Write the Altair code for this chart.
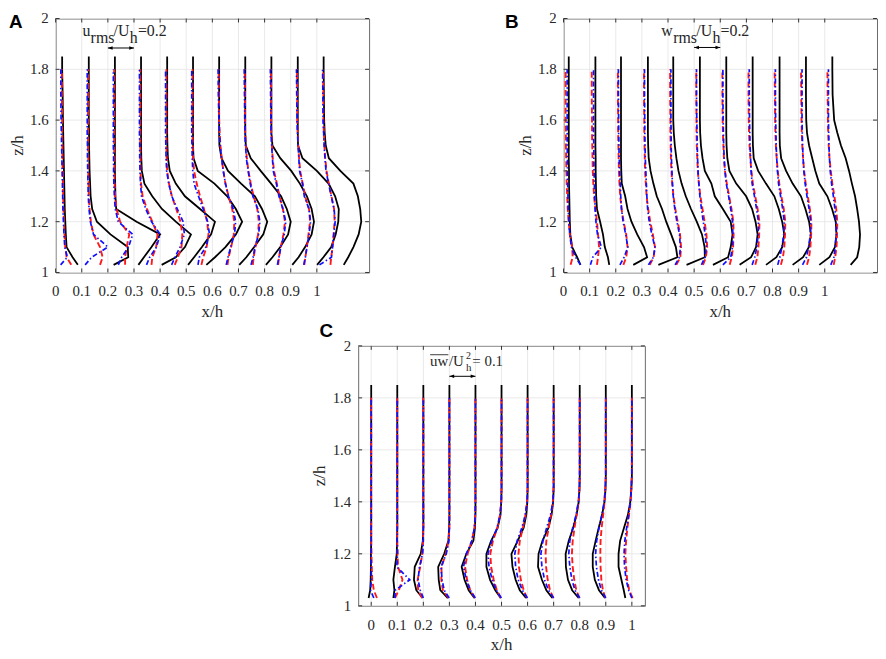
import altair as alt
import pandas as pd

# ---------------- data (offsets of each profile from its station, in x/h units) -------------
Z_LEVELS = [1.03, 1.06, 1.1, 1.15, 1.2, 1.25, 1.3, 1.35, 1.4, 1.45, 1.5, 1.55, 1.6, 1.7, 1.8]
Z_TOP_SOLID = 1.85
STATIONS = [0.0, 0.1, 0.2, 0.3, 0.4, 0.5, 0.6, 0.7, 0.8, 0.9, 1.0]
X_TICKS = [0, 0.1, 0.2, 0.3, 0.4, 0.5, 0.6, 0.7, 0.8, 0.9, 1]
X_TICK_LABELS = ["0", "0.1", "0.2", "0.3", "0.4", "0.5", "0.6", "0.7", "0.8", "0.9", "1"]
Y_TICKS = [1, 1.2, 1.4, 1.6, 1.8, 2]
Y_TICK_LABELS = ["1", "1.2", "1.4", "1.6", "1.8", "2"]

# Panel A : u_rms profiles
A_BLACK = [
    [0.085, 0.065, 0.042, 0.039, 0.037, 0.035, 0.034, 0.033, 0.032, 0.031, 0.030, 0.029, 0.028, 0.027, 0.025],
    [0.122, 0.178, 0.176, 0.110, 0.058, 0.040, 0.034, 0.032, 0.030, 0.029, 0.028, 0.028, 0.027, 0.027, 0.027],
    [0.117, 0.138, 0.167, 0.200, 0.110, 0.032, 0.029, 0.028, 0.027, 0.027, 0.027, 0.027, 0.027, 0.027, 0.027],
    [0.106, 0.160, 0.195, 0.218, 0.160, 0.107, 0.070, 0.040, 0.030, 0.028, 0.027, 0.027, 0.027, 0.027, 0.027],
    [0.107, 0.130, 0.160, 0.195, 0.210, 0.153, 0.095, 0.060, 0.037, 0.030, 0.028, 0.027, 0.027, 0.027, 0.027],
    [0.077, 0.110, 0.150, 0.190, 0.214, 0.190, 0.157, 0.108, 0.044, 0.028, 0.026, 0.026, 0.026, 0.026, 0.026],
    [0.103, 0.130, 0.160, 0.195, 0.210, 0.190, 0.163, 0.110, 0.060, 0.035, 0.027, 0.026, 0.026, 0.026, 0.026],
    [0.105, 0.130, 0.160, 0.190, 0.200, 0.185, 0.163, 0.125, 0.085, 0.047, 0.028, 0.026, 0.026, 0.026, 0.026],
    [0.106, 0.130, 0.155, 0.180, 0.189, 0.180, 0.162, 0.135, 0.102, 0.060, 0.030, 0.026, 0.026, 0.026, 0.026],
    [0.101, 0.125, 0.155, 0.172, 0.182, 0.184, 0.170, 0.145, 0.100, 0.045, 0.028, 0.027, 0.027, 0.027, 0.027],
    [0.103, 0.120, 0.140, 0.160, 0.170, 0.166, 0.157, 0.140, 0.090, 0.046, 0.034, 0.030, 0.028, 0.027, 0.026],
]
A_RED = [
    [0.060, 0.042, 0.037, 0.034, 0.032, 0.030, 0.029, 0.028, 0.027, 0.026, 0.026, 0.025, 0.025, 0.024, 0.024],
    [0.070, 0.080, 0.070, 0.045, 0.035, 0.030, 0.027, 0.026, 0.025, 0.025, 0.024, 0.024, 0.024, 0.024, 0.024],
    [0.066, 0.066, 0.072, 0.082, 0.047, 0.033, 0.028, 0.026, 0.025, 0.025, 0.024, 0.024, 0.024, 0.024, 0.024],
    [0.067, 0.070, 0.085, 0.090, 0.070, 0.050, 0.033, 0.027, 0.025, 0.025, 0.024, 0.024, 0.024, 0.024, 0.024],
    [0.056, 0.068, 0.082, 0.085, 0.078, 0.062, 0.045, 0.034, 0.027, 0.025, 0.024, 0.024, 0.024, 0.024, 0.024],
    [0.058, 0.065, 0.078, 0.085, 0.080, 0.068, 0.053, 0.040, 0.030, 0.026, 0.025, 0.024, 0.024, 0.024, 0.024],
    [0.058, 0.062, 0.072, 0.082, 0.084, 0.076, 0.062, 0.050, 0.042, 0.036, 0.031, 0.028, 0.026, 0.025, 0.024],
    [0.055, 0.058, 0.065, 0.075, 0.078, 0.072, 0.058, 0.047, 0.038, 0.032, 0.028, 0.026, 0.025, 0.025, 0.024],
    [0.052, 0.055, 0.062, 0.072, 0.078, 0.070, 0.057, 0.047, 0.036, 0.031, 0.028, 0.026, 0.025, 0.025, 0.024],
    [0.052, 0.056, 0.062, 0.068, 0.074, 0.070, 0.055, 0.046, 0.036, 0.032, 0.029, 0.027, 0.025, 0.025, 0.024],
    [0.052, 0.055, 0.060, 0.064, 0.068, 0.066, 0.056, 0.046, 0.037, 0.032, 0.029, 0.027, 0.025, 0.025, 0.024],
]
A_BLUE = [
    [0.019, 0.045, 0.035, 0.032, 0.030, 0.028, 0.027, 0.026, 0.025, 0.024, 0.023, 0.022, 0.021, 0.020, 0.020],
    [0.013, 0.038, 0.100, 0.045, 0.033, 0.028, 0.025, 0.024, 0.023, 0.022, 0.022, 0.021, 0.021, 0.021, 0.021],
    [0.040, 0.053, 0.079, 0.095, 0.040, 0.028, 0.025, 0.023, 0.022, 0.022, 0.021, 0.021, 0.021, 0.021, 0.021],
    [0.048, 0.060, 0.086, 0.100, 0.067, 0.045, 0.029, 0.025, 0.023, 0.022, 0.022, 0.021, 0.021, 0.021, 0.021],
    [0.044, 0.057, 0.076, 0.093, 0.088, 0.066, 0.045, 0.033, 0.025, 0.023, 0.022, 0.021, 0.021, 0.021, 0.021],
    [0.045, 0.050, 0.075, 0.089, 0.082, 0.065, 0.047, 0.030, 0.025, 0.023, 0.022, 0.021, 0.021, 0.021, 0.021],
    [0.053, 0.060, 0.070, 0.085, 0.089, 0.080, 0.062, 0.050, 0.042, 0.035, 0.030, 0.027, 0.025, 0.023, 0.022],
    [0.048, 0.056, 0.063, 0.077, 0.082, 0.074, 0.055, 0.045, 0.037, 0.030, 0.027, 0.025, 0.024, 0.023, 0.022],
    [0.049, 0.055, 0.062, 0.075, 0.081, 0.070, 0.055, 0.045, 0.033, 0.030, 0.027, 0.025, 0.024, 0.023, 0.022],
    [0.050, 0.056, 0.062, 0.070, 0.076, 0.070, 0.052, 0.045, 0.034, 0.031, 0.028, 0.026, 0.024, 0.023, 0.022],
    [0.010, 0.056, 0.060, 0.065, 0.070, 0.066, 0.055, 0.045, 0.035, 0.031, 0.028, 0.026, 0.024, 0.023, 0.022],
]

# Panel B : w_rms profiles
B_BLACK = [
    [0.065, 0.052, 0.033, 0.026, 0.024, 0.023, 0.022, 0.021, 0.021, 0.020, 0.020, 0.020, 0.020, 0.020, 0.020],
    [0.075, 0.070, 0.058, 0.051, 0.040, 0.028, 0.025, 0.024, 0.023, 0.023, 0.022, 0.022, 0.022, 0.022, 0.022],
    [0.067, 0.120, 0.108, 0.082, 0.060, 0.045, 0.036, 0.023, 0.021, 0.020, 0.020, 0.020, 0.020, 0.020, 0.020],
    [0.063, 0.136, 0.130, 0.112, 0.093, 0.077, 0.057, 0.044, 0.033, 0.026, 0.024, 0.023, 0.023, 0.023, 0.023],
    [0.071, 0.141, 0.140, 0.130, 0.110, 0.088, 0.068, 0.052, 0.040, 0.032, 0.026, 0.022, 0.020, 0.020, 0.020],
    [0.072, 0.130, 0.140, 0.147, 0.140, 0.110, 0.079, 0.066, 0.041, 0.032, 0.026, 0.023, 0.022, 0.022, 0.022],
    [0.074, 0.118, 0.137, 0.143, 0.135, 0.122, 0.099, 0.061, 0.035, 0.027, 0.024, 0.023, 0.023, 0.023, 0.023],
    [0.075, 0.115, 0.137, 0.145, 0.137, 0.124, 0.107, 0.075, 0.045, 0.028, 0.025, 0.024, 0.024, 0.024, 0.024],
    [0.077, 0.117, 0.139, 0.147, 0.140, 0.126, 0.109, 0.077, 0.052, 0.033, 0.028, 0.027, 0.027, 0.027, 0.027],
    [0.079, 0.118, 0.139, 0.145, 0.142, 0.128, 0.110, 0.079, 0.064, 0.052, 0.040, 0.032, 0.029, 0.028, 0.028],
    [0.099, 0.124, 0.132, 0.135, 0.131, 0.124, 0.116, 0.104, 0.093, 0.080, 0.062, 0.048, 0.036, 0.030, 0.029],
]
B_RED = [
    [0.027, 0.035, 0.033, 0.024, 0.020, 0.016, 0.014, 0.012, 0.011, 0.010, 0.009, 0.009, 0.008, 0.008, 0.008],
    [0.028, 0.032, 0.036, 0.032, 0.028, 0.022, 0.017, 0.014, 0.012, 0.011, 0.010, 0.009, 0.009, 0.008, 0.008],
    [0.029, 0.040, 0.045, 0.040, 0.030, 0.022, 0.017, 0.014, 0.012, 0.011, 0.010, 0.009, 0.009, 0.008, 0.008],
    [0.030, 0.045, 0.050, 0.042, 0.032, 0.024, 0.018, 0.015, 0.012, 0.011, 0.010, 0.009, 0.009, 0.008, 0.008],
    [0.032, 0.047, 0.050, 0.046, 0.037, 0.028, 0.021, 0.016, 0.013, 0.011, 0.010, 0.009, 0.009, 0.008, 0.008],
    [0.034, 0.045, 0.050, 0.047, 0.040, 0.032, 0.024, 0.018, 0.014, 0.012, 0.010, 0.009, 0.009, 0.008, 0.008],
    [0.036, 0.044, 0.049, 0.051, 0.050, 0.043, 0.034, 0.025, 0.018, 0.014, 0.012, 0.010, 0.009, 0.008, 0.008],
    [0.034, 0.042, 0.046, 0.049, 0.050, 0.043, 0.034, 0.025, 0.019, 0.015, 0.012, 0.010, 0.009, 0.008, 0.008],
    [0.032, 0.040, 0.045, 0.048, 0.049, 0.043, 0.034, 0.026, 0.020, 0.016, 0.013, 0.011, 0.010, 0.009, 0.008],
    [0.032, 0.040, 0.045, 0.048, 0.049, 0.043, 0.035, 0.027, 0.021, 0.017, 0.014, 0.012, 0.011, 0.010, 0.009],
    [0.034, 0.040, 0.045, 0.047, 0.048, 0.044, 0.037, 0.029, 0.023, 0.018, 0.015, 0.013, 0.012, 0.011, 0.010],
]
B_BLUE = [
    [0.065, 0.046, 0.030, 0.024, 0.020, 0.018, 0.017, 0.016, 0.015, 0.015, 0.014, 0.014, 0.014, 0.014, 0.014],
    [0.003, 0.012, 0.045, 0.030, 0.024, 0.021, 0.019, 0.018, 0.017, 0.016, 0.016, 0.015, 0.015, 0.015, 0.015],
    [0.016, 0.032, 0.046, 0.038, 0.028, 0.022, 0.019, 0.017, 0.015, 0.013, 0.012, 0.011, 0.011, 0.010, 0.010],
    [0.025, 0.044, 0.050, 0.038, 0.028, 0.022, 0.019, 0.017, 0.015, 0.013, 0.012, 0.011, 0.011, 0.010, 0.010],
    [0.027, 0.044, 0.047, 0.044, 0.034, 0.026, 0.020, 0.017, 0.015, 0.013, 0.012, 0.012, 0.011, 0.011, 0.011],
    [0.028, 0.041, 0.047, 0.042, 0.035, 0.028, 0.022, 0.018, 0.015, 0.013, 0.012, 0.011, 0.010, 0.009, 0.009],
    [0.010, 0.040, 0.047, 0.048, 0.047, 0.040, 0.032, 0.023, 0.018, 0.015, 0.013, 0.012, 0.011, 0.010, 0.010],
    [0.022, 0.032, 0.040, 0.045, 0.046, 0.039, 0.031, 0.022, 0.018, 0.016, 0.014, 0.013, 0.012, 0.011, 0.011],
    [0.020, 0.028, 0.036, 0.043, 0.045, 0.039, 0.031, 0.023, 0.019, 0.016, 0.014, 0.013, 0.012, 0.011, 0.011],
    [0.015, 0.030, 0.038, 0.045, 0.046, 0.040, 0.032, 0.025, 0.020, 0.017, 0.015, 0.014, 0.013, 0.013, 0.013],
    [0.023, 0.035, 0.040, 0.044, 0.043, 0.039, 0.033, 0.026, 0.021, 0.018, 0.016, 0.015, 0.014, 0.014, 0.014],
]

# Panel C : uw profiles
C_BLACK = [
    [-0.010, -0.004, -0.002, -0.001, -0.001, 0.000, 0.000, 0.000, 0.000, 0.000, 0.000, 0.000, 0.000, 0.000, 0.000],
    [-0.015, -0.011, -0.015, -0.009, -0.002, -0.001, 0.000, 0.000, 0.000, 0.000, 0.000, 0.000, 0.000, 0.000, 0.000],
    [-0.003, -0.027, -0.036, -0.033, -0.010, -0.002, 0.000, 0.000, 0.000, 0.000, 0.000, 0.000, 0.000, 0.000, 0.000],
    [-0.006, -0.035, -0.041, -0.043, -0.020, -0.004, -0.001, 0.000, 0.000, 0.000, 0.000, 0.000, 0.000, 0.000, 0.000],
    [-0.004, -0.026, -0.042, -0.053, -0.035, -0.008, -0.002, 0.000, 0.000, 0.000, 0.000, 0.000, 0.000, 0.000, 0.000],
    [-0.003, -0.024, -0.044, -0.058, -0.058, -0.040, -0.015, -0.004, -0.001, 0.000, 0.000, 0.000, 0.000, 0.000, 0.000],
    [-0.006, -0.030, -0.046, -0.058, -0.062, -0.038, -0.015, -0.005, -0.001, 0.000, 0.000, 0.000, 0.000, 0.000, 0.000],
    [-0.005, -0.028, -0.045, -0.060, -0.058, -0.043, -0.020, -0.008, -0.002, 0.000, 0.000, 0.000, 0.000, 0.000, 0.000],
    [-0.004, -0.029, -0.045, -0.053, -0.054, -0.042, -0.025, -0.012, -0.004, -0.001, 0.000, 0.000, 0.000, 0.000, 0.000],
    [-0.003, -0.026, -0.042, -0.050, -0.050, -0.039, -0.027, -0.014, -0.005, -0.001, 0.000, 0.000, 0.000, 0.000, 0.000],
    [-0.025, -0.031, -0.040, -0.051, -0.051, -0.045, -0.030, -0.015, -0.006, -0.002, 0.000, 0.000, 0.000, 0.000, 0.000],
]
C_RED = [
    [0.022, 0.010, 0.004, 0.002, 0.001, 0.000, 0.000, 0.000, 0.000, 0.000, 0.000, 0.000, 0.000, 0.000, 0.000],
    [-0.009, 0.006, 0.020, 0.003, 0.001, 0.000, 0.000, 0.000, 0.000, 0.000, 0.000, 0.000, 0.000, 0.000, 0.000],
    [-0.004, -0.020, -0.022, -0.012, -0.004, -0.001, 0.000, 0.000, 0.000, 0.000, 0.000, 0.000, 0.000, 0.000, 0.000],
    [-0.003, -0.025, -0.031, -0.030, -0.014, -0.003, 0.000, 0.000, 0.000, 0.000, 0.000, 0.000, 0.000, 0.000, 0.000],
    [-0.002, -0.020, -0.032, -0.040, -0.030, -0.014, -0.004, -0.001, 0.000, 0.000, 0.000, 0.000, 0.000, 0.000, 0.000],
    [-0.003, -0.018, -0.030, -0.040, -0.043, -0.033, -0.016, -0.006, -0.001, 0.000, 0.000, 0.000, 0.000, 0.000, 0.000],
    [-0.002, -0.015, -0.026, -0.033, -0.035, -0.030, -0.018, -0.008, -0.002, 0.000, 0.000, 0.000, 0.000, 0.000, 0.000],
    [-0.001, -0.014, -0.023, -0.029, -0.031, -0.028, -0.019, -0.010, -0.003, -0.001, 0.000, 0.000, 0.000, 0.000, 0.000],
    [-0.001, -0.013, -0.021, -0.027, -0.030, -0.027, -0.020, -0.012, -0.005, -0.001, 0.000, 0.000, 0.000, 0.000, 0.000],
    [-0.002, -0.011, -0.017, -0.020, -0.021, -0.020, -0.016, -0.010, -0.005, -0.002, 0.000, 0.000, 0.000, 0.000, 0.000],
    [0.003, -0.010, -0.018, -0.022, -0.025, -0.022, -0.017, -0.011, -0.005, -0.002, 0.000, 0.000, 0.000, 0.000, 0.000],
]
C_BLUE = [
    [0.010, -0.003, 0.001, 0.000, 0.000, 0.000, 0.000, 0.000, 0.000, 0.000, 0.000, 0.000, 0.000, 0.000, 0.000],
    [-0.009, -0.008, 0.048, -0.002, 0.001, 0.000, 0.000, 0.000, 0.000, 0.000, 0.000, 0.000, 0.000, 0.000, 0.000],
    [0.000, -0.012, -0.020, -0.015, -0.003, 0.000, 0.000, 0.000, 0.000, 0.000, 0.000, 0.000, 0.000, 0.000, 0.000],
    [-0.001, -0.020, -0.028, -0.032, -0.012, -0.002, 0.000, 0.000, 0.000, 0.000, 0.000, 0.000, 0.000, 0.000, 0.000],
    [-0.001, -0.020, -0.035, -0.046, -0.035, -0.014, -0.004, -0.001, 0.000, 0.000, 0.000, 0.000, 0.000, 0.000, 0.000],
    [-0.001, -0.020, -0.036, -0.048, -0.052, -0.037, -0.017, -0.006, -0.001, 0.000, 0.000, 0.000, 0.000, 0.000, 0.000],
    [-0.001, -0.020, -0.036, -0.046, -0.049, -0.040, -0.022, -0.009, -0.002, 0.000, 0.000, 0.000, 0.000, 0.000, 0.000],
    [0.000, -0.020, -0.035, -0.045, -0.049, -0.041, -0.027, -0.012, -0.003, 0.000, 0.000, 0.000, 0.000, 0.000, 0.000],
    [0.000, -0.018, -0.030, -0.038, -0.042, -0.038, -0.027, -0.014, -0.005, -0.001, 0.000, 0.000, 0.000, 0.000, 0.000],
    [0.000, -0.017, -0.028, -0.036, -0.039, -0.035, -0.026, -0.015, -0.006, -0.002, 0.000, 0.000, 0.000, 0.000, 0.000],
    [0.000, -0.012, -0.022, -0.028, -0.030, -0.027, -0.020, -0.012, -0.005, -0.002, 0.000, 0.000, 0.000, 0.000, 0.000],
]

# scale-bar annotations (text pieces, their anchor x and z, font size)
A_LABEL = {"t": ["u", "rms", "/U", "h", "=0.2"],
           "x": [0.103, 0.134, 0.222, 0.284, 0.315],
           "z": [1.932, 1.902, 1.932, 1.902, 1.932],
           "fs": [16, 16, 16, 16, 16]}
B_LABEL = {"t": ["w", "rms", "/U", "h", "=0.2"],
           "x": [0.374, 0.420, 0.508, 0.570, 0.601],
           "z": [1.932, 1.902, 1.932, 1.902, 1.932],
           "fs": [16, 16, 16, 16, 16]}
C_LABEL = {"t": ["uw", "/U", "2", "h", " = 0.1"],
           "x": [0.226, 0.298, 0.364, 0.364, 0.388],
           "z": [1.924, 1.924, 1.950, 1.903, 1.924],
           "fs": [15, 15, 10, 11, 15]}
A_ARROW = [0.2, 0.3, 1.884]
B_ARROW = [0.5, 0.6, 1.886]
C_ARROW = [0.3, 0.4, 1.883]
C_OVERLINE = [0.226, 0.296, 1.966]

FONT = "Liberation Serif"
INK = "#262626"


def profile_frame(rows, top=None):
    recs = []
    for s, row in zip(STATIONS, rows):
        for z, d in zip(Z_LEVELS, row):
            recs.append({"station": s, "z": z, "x": round(s + d, 4)})
        if top is not None:
            recs.append({"station": s, "z": top, "x": round(s + row[-1], 4)})
    return pd.DataFrame(recs)


RIGHT_HEAD = "M0,0 L-2.4,-0.9 L-2.4,0.9 Z"
LEFT_HEAD = "M0,0 L2.4,-0.9 L2.4,0.9 Z"


def make_panel(black, red, blue, xdom, W, H, letter, lx, ly, label, arrow, overline=None):
    xsc = alt.Scale(domain=xdom, nice=False, zero=False)
    ysc = alt.Scale(domain=[1, 2], nice=False, zero=False)
    X = alt.X("x:Q", scale=xsc, axis=None)
    Y = alt.Y("z:Q", scale=ysc, axis=None)

    xt = pd.DataFrame({"x": X_TICKS, "lab": X_TICK_LABELS})
    yt = pd.DataFrame({"z": Y_TICKS, "lab": Y_TICK_LABELS})

    grid_x = alt.Chart(xt).mark_rule(color="#e3e3e3", strokeWidth=0.8).encode(
        x=X, y=alt.value(0), y2=alt.value(H))
    grid_y = alt.Chart(yt).mark_rule(color="#e3e3e3", strokeWidth=0.8).encode(
        y=Y, x=alt.value(0), x2=alt.value(W))

    lines_black = alt.Chart(profile_frame(black, Z_TOP_SOLID)).mark_line(
        color="black", strokeWidth=1.8).encode(x=X, y=Y, detail="station:N", order="z:Q")
    lines_red = alt.Chart(profile_frame(red)).mark_line(
        color="#ff1a1a", strokeWidth=1.9, strokeDash=[6, 3]).encode(
        x=X, y=Y, detail="station:N", order="z:Q")
    lines_blue = alt.Chart(profile_frame(blue)).mark_line(
        color="#1010ff", strokeWidth=1.7, strokeDash=[5, 2.5, 1.5, 2.5]).encode(
        x=X, y=Y, detail="station:N", order="z:Q")

    tick_bottom = alt.Chart(xt).mark_rule(color="#333", strokeWidth=1).encode(
        x=X, y=alt.value(H), y2=alt.value(H - 4))
    tick_top = alt.Chart(xt).mark_rule(color="#333", strokeWidth=1).encode(
        x=X, y=alt.value(0), y2=alt.value(4))
    tick_left = alt.Chart(yt).mark_rule(color="#333", strokeWidth=1).encode(
        y=Y, x=alt.value(0), x2=alt.value(4))
    tick_right = alt.Chart(yt).mark_rule(color="#333", strokeWidth=1).encode(
        y=Y, x=alt.value(W), x2=alt.value(W - 4))

    xlab = alt.Chart(xt).mark_text(align="center", baseline="middle", font=FONT,
                                   fontSize=15, color=INK).encode(
        x=X, y=alt.value(H + 19), text="lab:N")
    ylab = alt.Chart(yt).mark_text(align="right", baseline="middle", font=FONT,
                                   fontSize=15, color=INK).encode(
        y=Y, x=alt.value(-7), text="lab:N")
    xtitle = alt.Chart(pd.DataFrame({"t": ["x/h"]})).mark_text(
        align="center", baseline="middle", font=FONT, fontSize=17, color=INK).encode(
        x=alt.value(W / 2), y=alt.value(H + 40), text="t:N")
    ytitle = alt.Chart(pd.DataFrame({"t": ["z/h"]})).mark_text(
        align="center", baseline="middle", font=FONT, fontSize=17, color=INK,
        angle=270).encode(x=alt.value(-38), y=alt.value(H / 2), text="t:N")

    text = alt.Chart(pd.DataFrame(label)).mark_text(
        align="left", baseline="alphabetic", font=FONT, color=INK).encode(
        x=X, y=Y, text="t:N", size=alt.Size("fs:Q", scale=None, legend=None))

    adf = pd.DataFrame({"x": [arrow[0]], "x2": [arrow[1]], "z": [arrow[2]]})
    arr_line = alt.Chart(adf).mark_rule(color="black", strokeWidth=1).encode(
        x=X, x2="x2:Q", y=Y)
    head_l = alt.Chart(adf).mark_point(shape=LEFT_HEAD, filled=True, size=16,
                                       color="black", opacity=1).encode(x=X, y=Y)
    head_r = alt.Chart(adf).mark_point(shape=RIGHT_HEAD, filled=True, size=16,
                                       color="black", opacity=1).encode(
        x=alt.X("x2:Q", scale=xsc, axis=None), y=Y)

    letter_mark = alt.Chart(pd.DataFrame({"t": [letter]})).mark_text(
        align="left", baseline="middle", font="Liberation Sans", fontWeight="bold",
        fontSize=19, color="black").encode(x=alt.value(lx), y=alt.value(ly), text="t:N")

    layers = [grid_x, grid_y, lines_black, lines_red, lines_blue, tick_bottom, tick_top,
              tick_left, tick_right, xlab, ylab, xtitle, ytitle, text, arr_line, head_l,
              head_r, letter_mark]
    if overline is not None:
        odf = pd.DataFrame({"x": [overline[0]], "x2": [overline[1]], "z": [overline[2]]})
        layers.append(alt.Chart(odf).mark_rule(color=INK, strokeWidth=0.9).encode(
            x=X, x2="x2:Q", y=Y))
    return alt.layer(*layers).properties(width=W, height=H)


panel_a = make_panel(A_BLACK, A_RED, A_BLUE, [0, 1.2], 316, 256, "A", -47, 4, A_LABEL, A_ARROW)
panel_b = make_panel(B_BLACK, B_RED, B_BLUE, [0, 1.2], 316, 256, "B", -59, 4, B_LABEL, B_ARROW)
panel_c = make_panel(C_BLACK, C_RED, C_BLUE, [-0.05, 1.05], 289, 262, "C", -39, -15,
                     C_LABEL, C_ARROW, C_OVERLINE)

# empty, invisible cell that pushes panel C towards the middle of the page
spacer = alt.Chart(pd.DataFrame({"v": [0]})).mark_point(opacity=0).encode(
    x=alt.value(0), y=alt.value(0)).properties(
    width=257, height=10, view=alt.ViewBackground(strokeOpacity=0))

chart = alt.vconcat(
    alt.hconcat(panel_a, panel_b, spacing=135),
    alt.hconcat(spacer, panel_c, spacing=0),
    spacing=0,
).properties(padding=0).configure_view(
    stroke="#6a6a6a", strokeWidth=1
)

chart.save("out.html", embed_options={"renderer": "svg", "actions": False})
